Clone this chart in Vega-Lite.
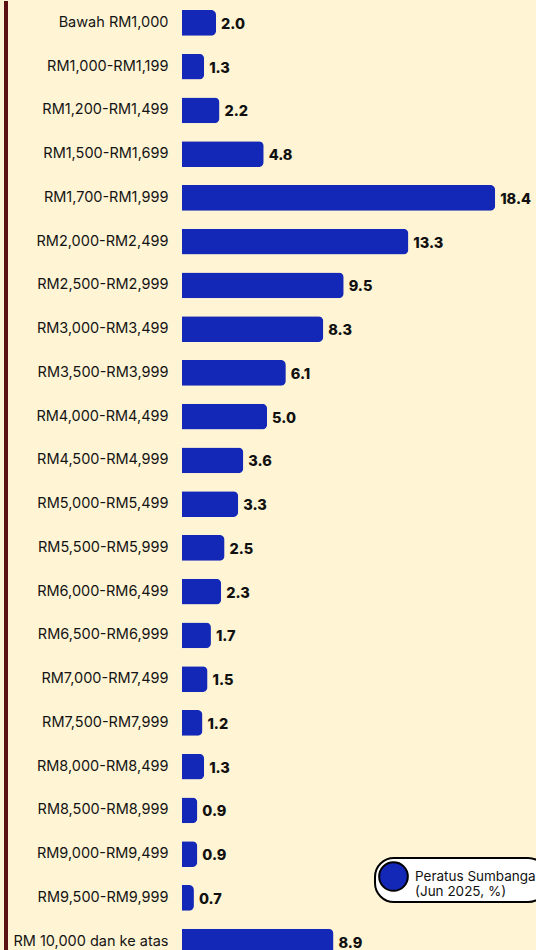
{
  "$schema": "https://vega.github.io/schema/vega-lite/v6.json",
  "width": 354,
  "height": 962.5,
  "autosize": {"type": "none"},
  "padding": {"left": 182, "top": 1, "right": 0, "bottom": 0},
  "background": "#FFF5D4",
  "config": {"view": {"stroke": null}},
  "data": {"values": [
    {"band": "Bawah RM1,000", "pct": 2.0},
    {"band": "RM1,000-RM1,199", "pct": 1.3},
    {"band": "RM1,200-RM1,499", "pct": 2.2},
    {"band": "RM1,500-RM1,699", "pct": 4.8},
    {"band": "RM1,700-RM1,999", "pct": 18.4},
    {"band": "RM2,000-RM2,499", "pct": 13.3},
    {"band": "RM2,500-RM2,999", "pct": 9.5},
    {"band": "RM3,000-RM3,499", "pct": 8.3},
    {"band": "RM3,500-RM3,999", "pct": 6.1},
    {"band": "RM4,000-RM4,499", "pct": 5.0},
    {"band": "RM4,500-RM4,999", "pct": 3.6},
    {"band": "RM5,000-RM5,499", "pct": 3.3},
    {"band": "RM5,500-RM5,999", "pct": 2.5},
    {"band": "RM6,000-RM6,499", "pct": 2.3},
    {"band": "RM6,500-RM6,999", "pct": 1.7},
    {"band": "RM7,000-RM7,499", "pct": 1.5},
    {"band": "RM7,500-RM7,999", "pct": 1.2},
    {"band": "RM8,000-RM8,499", "pct": 1.3},
    {"band": "RM8,500-RM8,999", "pct": 0.9},
    {"band": "RM9,000-RM9,499", "pct": 0.9},
    {"band": "RM9,500-RM9,999", "pct": 0.7},
    {"band": "RM 10,000 dan ke atas", "pct": 8.9}
  ]},
  "layer": [
    {
      "mark": {"type": "bar", "cornerRadiusEnd": 5},
      "encoding": {
        "y": {
          "field": "band", "type": "nominal", "sort": null,
          "scale": {"paddingInner": 0.406, "paddingOuter": 0.203},
          "axis": {"title": null, "ticks": false, "domain": false, "labelPadding": 14, "labelFont": "Inter", "labelFontSize": 14.5, "labelColor": "#141414", "labelLimit": 0}
        },
        "x": {
          "field": "pct", "type": "quantitative",
          "scale": {"domain": [0, 20.8], "nice": false},
          "axis": null
        },
        "color": {
          "datum": "Peratus Sumbangan",
          "scale": {"range": ["#1428B8"]},
          "legend": {
            "title": null, "orient": "none", "legendX": 193, "legendY": 857,
            "fillColor": "white", "strokeColor": "black", "cornerRadius": 19, "padding": 3,
            "symbolType": "circle", "symbolSize": 820, "symbolStrokeColor": "black", "symbolStrokeWidth": 2, "symbolOpacity": 1,
            "labelExpr": "[datum.label, '(Jun 2025, %)']",
            "labelFont": "Inter", "labelFontSize": 13.5, "labelColor": "#111111", "labelLimit": 0, "labelOffset": 6,
            "encode": {"legend": {"update": {"strokeWidth": {"value": 2}}}}
          }
        }
      }
    },
    {
      "mark": {"type": "text", "align": "left", "baseline": "middle", "dx": 5, "dy": 2, "font": "Inter", "fontWeight": 800, "fontSize": 14.5, "color": "#111111"},
      "encoding": {
        "y": {"field": "band", "type": "nominal", "sort": null},
        "x": {"field": "pct", "type": "quantitative"},
        "text": {"field": "pct", "type": "quantitative", "format": ".1f"}
      }
    },
    {
      "mark": {"type": "rule", "color": "#5A1212", "strokeWidth": 3},
      "encoding": {"x": {"datum": -10.35}}
    }
  ]
}
